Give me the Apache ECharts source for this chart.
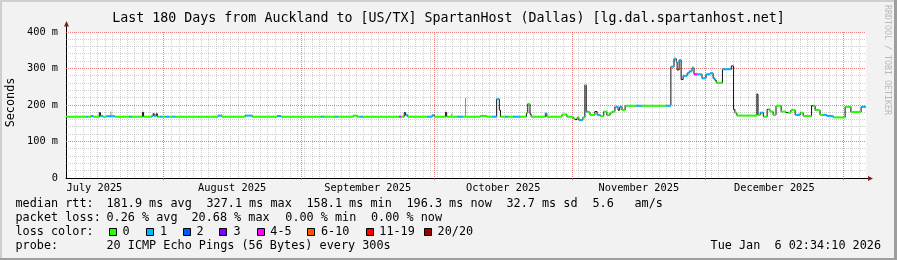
<!DOCTYPE html>
<html><head><meta charset="utf-8">
<script src="https://cdn.jsdelivr.net/npm/echarts@6/dist/echarts.min.js"></script>
<style>html,body{margin:0;padding:0;background:#f2f2f2}#c{width:897px;height:260px}</style>
</head><body><div id="c"></div>
<script>
// ---- data (x = days since start of the 180-day window) ----
const endDay = 180;
const runStart = [0,4.5,4.8,5.6,6.1,7.5,7.75,8.3,9.0,11.0,14.2,14.85,17.2,17.45,19.3,19.6,19.85,20.3,20.55,21.2,21.8,22.3,23.2,24.0,24.6,34.2,35.1,40.3,41.9,47.5,48.4,57.4,58.1,60.5,61.2,64.6,65.5,66.2,66.8,75.0,75.4,76.1,76.4,76.9,81.3,82.4,82.9,85.4,85.65,88.0,89.3,93.2,94.7,95.9,96.9,97.5,97.75,98.8,99.5,100.6,102.2,103.6,103.9,104.4,104.65,107.85,108.2,111.6,112.7,114.1,114.5,115.0,115.4,116.3,116.75,117.05,117.5,117.9,119.0,119.5,120.2,121.0,121.7,122.4,122.9,123.5,124.2,124.6,125.1,125.8,128.3,129.6,135.0,136.1,136.8,137.3,137.5,137.95,138.4,138.85,139.75,140.2,140.85,141.3,142.0,143.1,144.0,144.9,145.6,146.0,146.3,147.7,149.7,150.2,150.5,150.95,155.45,155.7,156.2,156.9,157.75,158.1,158.4,159.1,159.75,160.9,162.0,162.45,163.1,164.05,165.2,165.85,167.75,168.2,168.55,169.65,170.35,171.2,172.6,175.3,176.6,178.9];
const runRtt = [168,168,168,170,168,179,170,168,169,168,168,168,180,168,170,176,170,176,168,168,168,168,168,168,168,171,168,171,168,170,168,168,168,168,168,171,168,168,168,168,168,179,172,168,168,172,168,180,168,168,168,170,168,168,216,186,168,168,168,168,168,178,203,175,168,177,168,174,168,163,160,166,159,166,255,182,180,173,182,173,170,182,172,179,182,195,186,195,186,198,198,198,198,305,327,318,296,323,270,280,287,292,302,284,284,273,284,287,273,268,261,298,307,188,179,171,229,173,179,168,188,188,182,173,198,182,179,179,186,173,179,170,198,198,186,173,173,170,166,195,181,195];
const runLoss = [0,1,0,1,0,-1,1,0,1,0,1,0,-1,0,1,-1,1,-1,0,1,0,1,0,1,0,1,0,1,0,1,0,1,0,1,0,0,0,1,0,4,0,-1,1,0,1,1,0,-1,0,1,0,0,0,1,1,-1,0,1,0,1,0,0,0,-1,0,1,0,0,0,0,-1,0,1,0,0,1,0,0,-1,1,0,0,0,0,0,1,-1,1,0,0,1,0,1,1,1,1,-1,1,-1,1,1,1,1,4,1,1,1,1,1,-1,0,1,-1,-1,0,0,-1,0,1,0,-1,0,0,0,0,0,-1,0,0,1,0,0,-1,0,0,0,1,1,0,0,0,1];
const greyDay = [10.1, 86.8, 89.9, 155.5];
const greyLow = [168, 168, 168, 229];
const greyHigh = [182, 177, 219, 233];

const monthStartDays = [21.89, 52.89, 82.89, 113.89, 143.89, 174.89];
const monthLabelDays = [6.39, 37.39, 67.89, 98.39, 128.89, 159.39];
const monthLabels = ['July 2025','August 2025','September 2025','October 2025','November 2025','December 2025'];
const yTickValues = [0, 100, 200, 300, 400];
const yTickLabels = ['0', '100 m', '200 m', '300 m', '400 m'];

const lossNames = ['0','1','2','3','4-5','6-10','11-19','20/20'];
const lossColors = ['#26ff00','#00b8ff','#0059ff','#7e00ff','#ff00ff','#ff5500','#ff0000','#a00000'];

const titleText = 'Last 180 Days from Auckland to [US/TX] SpartanHost (Dallas) [lg.dal.spartanhost.net]';
const medianStats = ['median rtt:', '181.9 ms avg', '327.1 ms max', '158.1 ms min', '196.3 ms now', '32.7 ms sd', '5.6', 'am/s'];
const lossStats = ['packet loss:', '0.26 % avg', '20.68 % max', '0.00 % min', '0.00 % now'];
const probeText = ['probe:', '20 ICMP Echo Pings (56 Bytes) every 300s'];
const dateText = 'Tue Jan  6 02:34:10 2026';
const watermark = 'RRDTOOL / TOBI OETIKER';

// ---- layout / style ----
const FONT = "'DejaVu Sans Mono', monospace";
const G = {left: 66, top: 32, width: 800, height: 146};
const yMax = 400, yMinorStep = 20;
const minorStart = 2.18, minorStep = 1.663;
const MAJOR = 'rgba(222,79,79,0.7)', MINOR = 'rgba(143,143,143,0.42)';
const pxPerDay = G.width / endDay;

const minorDays = [];
for (let d = minorStart; d < endDay; d += minorStep) {
  if (monthStartDays.every(m => Math.abs(m - d) * pxPerDay >= 3)) minorDays.push(d);
}
const minorMs = [];
for (let v = yMinorStep; v < yMax; v += yMinorStep) if (yTickValues.indexOf(v) < 0) minorMs.push(v);
const majorMs = yTickValues.filter(v => v > 0);

// grid items: [day, ms, horizontal?, major?]
const gridItems = []
  .concat(minorDays.map(d => [d, 0, 0, 0]))
  .concat(minorMs.map(v => [0, v, 1, 0]))
  .concat(monthStartDays.map(d => [d, 0, 0, 1]))
  .concat(majorMs.map(v => [0, v, 1, 1]));

const runEnd = runStart.slice(1).concat([endDay]);
const smokeRuns = runStart.map((s, i) => [s, runEnd[i], runRtt[i], i + 1 < runRtt.length ? runRtt[i + 1] : runRtt[i]]);
const medianRuns = [];
runStart.forEach((s, i) => { if (runLoss[i] >= 0) medianRuns.push([s, runEnd[i], runRtt[i], runLoss[i]]); });

const chart = echarts.init(document.getElementById('c'));
chart.setOption({
  animation: false,
  backgroundColor: '#f2f2f2',
  grid: {left: G.left, top: G.top, width: G.width, height: G.height, show: true, backgroundColor: '#ffffff', borderWidth: 0},
  xAxis: {
    type: 'value', min: 0, max: endDay,
    axisLine: {show: true, onZero: false, lineStyle: {color: '#000', width: 1}},
    axisTick: {show: true, customValues: monthStartDays, length: 2, lineStyle: {color: MAJOR}},
    axisLabel: {customValues: monthLabelDays, fontFamily: FONT, fontSize: 10.3, color: '#000', margin: 5,
      formatter: v => { let k = 0; monthLabelDays.forEach((m, i) => { if (Math.abs(m - v) < Math.abs(monthLabelDays[k] - v)) k = i; }); return monthLabels[k]; }},
    splitLine: {show: false}
  },
  yAxis: {
    type: 'value', min: 0, max: yMax,
    axisLine: {show: true, lineStyle: {color: '#000', width: 1}},
    axisTick: {show: false},
    axisLabel: {customValues: yTickValues, fontFamily: FONT, fontSize: 10.3, color: '#000', margin: 8,
      formatter: v => { const i = yTickValues.indexOf(v); return i >= 0 ? yTickLabels[i] : ''; }},
    splitLine: {show: false}
  },
  series: [
    {type: 'custom', silent: true, z: 1, clip: false,
      data: gridItems, encode: {x: 0, y: 1},
      renderItem: (p, api) => {
        const cs = p.coordSys;
        const pt = api.coord([api.value(0), api.value(1)]);
        const horiz = api.value(2) === 1, major = api.value(3) === 1;
        const style = {stroke: major ? MAJOR : MINOR, lineWidth: 1, lineDash: [1, 1]};
        if (horiz) {
          const y = Math.floor(pt[1]) + 0.5;
          return {type: 'line', z2: major ? 2 : 1, shape: {x1: cs.x, y1: y, x2: cs.x + cs.width, y2: y}, style};
        }
        const x = Math.floor(pt[0]) + 0.5;
        return {type: 'line', z2: major ? 2 : 1, shape: {x1: x, y1: cs.y, x2: x, y2: cs.y + cs.height}, style};
      }},
    {type: 'custom', silent: true, z: 3,
      data: greyDay.map((d, i) => [d, greyLow[i], greyHigh[i]]),
      encode: {x: 0, y: [1, 2]},
      renderItem: (p, api) => {
        const a = api.coord([api.value(0), api.value(1)]), b = api.coord([api.value(0), api.value(2)]);
        return {type: 'line', shape: {x1: a[0], y1: a[1], x2: b[0], y2: b[1]}, style: {stroke: '#8a8a8a', lineWidth: 1}};
      }},
    {type: 'custom', silent: true, z: 4,
      data: smokeRuns, encode: {x: [0, 1], y: [2, 3]},
      renderItem: (p, api) => {
        const a = api.coord([api.value(0), api.value(2)]), b = api.coord([api.value(1), api.value(2)]);
        const c = api.coord([api.value(1), api.value(3)]);
        return {type: 'polyline', shape: {points: [a, b, c]}, style: {stroke: '#111', lineWidth: 1, fill: null}};
      }},
    {type: 'custom', silent: true, z: 5,
      data: medianRuns, encode: {x: [0, 1], y: 2},
      renderItem: (p, api) => {
        const a = api.coord([api.value(0), api.value(2)]), b = api.coord([api.value(1), api.value(2)]);
        return {type: 'line', shape: {x1: a[0], y1: a[1], x2: b[0], y2: b[1]},
          style: {stroke: lossColors[api.value(3)], lineWidth: 2, lineCap: 'butt'}};
      }}
  ]
});

// ---- decorations & legend (text drawn as graphic text) ----
const o = chart.convertToPixel({gridIndex: 0}, [0, 0]);
const tp = chart.convertToPixel({gridIndex: 0}, [0, yMax]);
const rp = chart.convertToPixel({gridIndex: 0}, [endDay, 0]);
const ox = Math.round(o[0]) + 0.5, oy = Math.round(o[1]) + 0.5;
const ARROW = '#801f1f';
const txt = (x, y, s, extra) => ({type: 'text', x, y, style: Object.assign({text: s, font: '11.8px ' + FONT, fill: '#000', verticalAlign: 'middle', align: 'left'}, extra || {})});
const els = [
  {type: 'rect', shape: {x: 0, y: 0, width: 897, height: 2}, style: {fill: '#cfcfcf'}},
  {type: 'rect', shape: {x: 0, y: 0, width: 2, height: 260}, style: {fill: '#cfcfcf'}},
  {type: 'rect', shape: {x: 0, y: 258, width: 897, height: 2}, style: {fill: '#9e9e9e'}},
  {type: 'rect', shape: {x: 894, y: 0, width: 3, height: 260}, style: {fill: '#9e9e9e'}},
  {type: 'line', shape: {x1: ox, y1: tp[1], x2: ox, y2: tp[1] - 6}, style: {stroke: '#000', lineWidth: 1}},
  {type: 'polygon', shape: {points: [[ox - 2.5, tp[1] - 5.5], [ox + 2.5, tp[1] - 5.5], [ox, tp[1] - 11]]}, style: {fill: ARROW}},
  {type: 'line', shape: {x1: rp[0], y1: oy, x2: rp[0] + 2.5, y2: oy}, style: {stroke: '#000', lineWidth: 1}},
  {type: 'polygon', shape: {points: [[rp[0] + 2, oy - 2.5], [rp[0] + 2, oy + 2.5], [rp[0] + 7, oy]]}, style: {fill: ARROW}},
  txt(448.5, 19, titleText, {font: '13.3px ' + FONT, align: 'center'}),
  {type: 'text', x: 10.5, y: 102.5, rotation: Math.PI / 2, style: {text: 'Seconds', font: '11.8px ' + FONT, fill: '#000', align: 'center', verticalAlign: 'middle'}},
  {type: 'text', x: 887, y: 60, rotation: -Math.PI / 2, style: {text: watermark, font: '8.3px ' + FONT, fill: '#b8b8b8', align: 'center', verticalAlign: 'middle'}}
];
const medX = [15.5, 106.5, 206.5, 306.5, 406.5, 506.5, 592.5, 634.5];
medianStats.forEach((s, i) => els.push(txt(medX[i], 204.3, s)));
const lossX = [15.5, 106.5, 191.5, 285.3, 371];
lossStats.forEach((s, i) => els.push(txt(lossX[i], 218.3, s)));
els.push(txt(15.5, 232.3, 'loss color:'));
const boxX = [108.7, 145.7, 182.7, 219.3, 256.7, 306.7, 365.7, 424];
const lblX = [122.6, 160, 196.6, 233.6, 270.3, 321, 379.3, 437.6];
lossNames.forEach((n, i) => {
  els.push({type: 'rect', shape: {x: Math.round(boxX[i]) + 0.5, y: 228.5, width: 7, height: 7}, style: {fill: lossColors[i], stroke: '#000', lineWidth: 1}});
  els.push(txt(lblX[i], 232.3, n));
});
els.push(txt(15.5, 246.3, probeText[0]));
els.push(txt(106.5, 246.3, probeText[1]));
els.push(txt(881, 246.3, dateText, {align: 'right'}));
chart.setOption({graphic: {elements: els}});
</script></body></html>
